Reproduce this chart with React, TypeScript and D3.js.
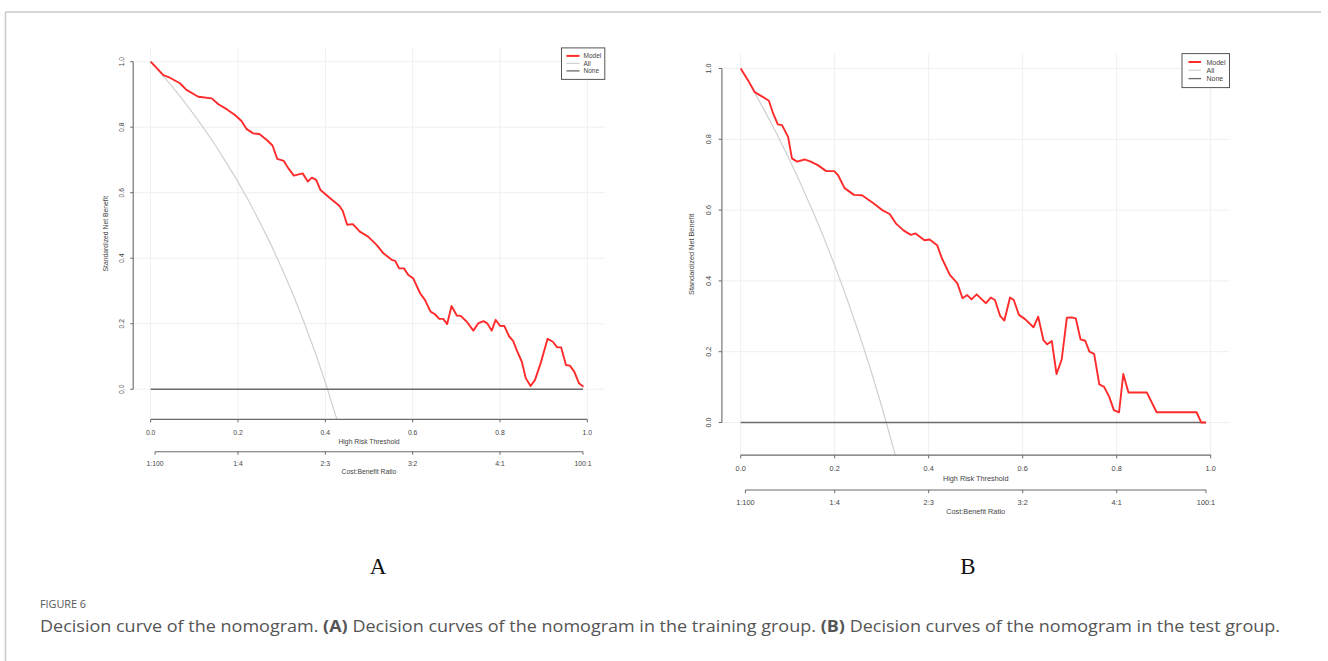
import React from 'react';
import * as d3 from 'd3';

// ---------- shared tick labels ----------
const xTicks = [0, 0.2, 0.4, 0.6, 0.8, 1.0];
const xTickLabels = ['0.0', '0.2', '0.4', '0.6', '0.8', '1.0'];
const yTicks = [0, 0.2, 0.4, 0.6, 0.8, 1.0];
const yTickLabels = ['0.0', '0.2', '0.4', '0.6', '0.8', '1.0'];
const costTicks = [0.01, 0.2, 0.4, 0.6, 0.8, 0.99];
const costLabels = ['1:100', '1:4', '2:3', '3:2', '4:1', '100:1'];
const legendLabels = ['Model', 'All', 'None'];

// ---------- Panel A (training group) ----------
const thresholdA = [0, 0.029, 0.044, 0.067, 0.082, 0.109, 0.14, 0.155, 0.174, 0.193, 0.208, 0.22, 0.235, 0.249, 0.266, 0.279, 0.29, 0.305, 0.315, 0.328, 0.348, 0.36, 0.369, 0.379, 0.389, 0.411, 0.432, 0.44, 0.45, 0.463, 0.479, 0.498, 0.518, 0.533, 0.552, 0.56, 0.569, 0.58, 0.59, 0.601, 0.617, 0.628, 0.641, 0.651, 0.661, 0.67, 0.679, 0.689, 0.701, 0.71, 0.724, 0.739, 0.75, 0.762, 0.771, 0.781, 0.79, 0.8, 0.81, 0.821, 0.83, 0.838, 0.85, 0.859, 0.87, 0.88, 0.893, 0.909, 0.921, 0.931, 0.94, 0.951, 0.96, 0.97, 0.981, 0.991];
const modelA = [1.0, 0.959, 0.951, 0.934, 0.914, 0.893, 0.888, 0.87, 0.855, 0.837, 0.819, 0.794, 0.781, 0.779, 0.761, 0.744, 0.703, 0.697, 0.675, 0.652, 0.659, 0.634, 0.646, 0.639, 0.608, 0.583, 0.56, 0.544, 0.502, 0.504, 0.481, 0.466, 0.44, 0.415, 0.395, 0.392, 0.369, 0.369, 0.349, 0.339, 0.293, 0.273, 0.237, 0.229, 0.215, 0.215, 0.199, 0.254, 0.225, 0.224, 0.206, 0.179, 0.201, 0.208, 0.201, 0.179, 0.212, 0.194, 0.193, 0.161, 0.148, 0.12, 0.084, 0.034, 0.01, 0.028, 0.079, 0.154, 0.145, 0.128, 0.128, 0.074, 0.072, 0.054, 0.018, 0.008];
const allThresholdA = [0, 0.025, 0.05, 0.075, 0.1, 0.125, 0.15, 0.175, 0.2, 0.225, 0.25, 0.275, 0.3, 0.325, 0.35, 0.375, 0.4, 0.4265];
const allA = [1.0, 0.962, 0.923, 0.881, 0.837, 0.79, 0.741, 0.688, 0.633, 0.574, 0.51, 0.443, 0.37, 0.293, 0.209, 0.119, 0.021, -0.092];

// ---------- Panel B (test group) ----------
const thresholdB = [0, 0.0155, 0.03, 0.044, 0.06, 0.069, 0.079, 0.088, 0.101, 0.109, 0.12, 0.136, 0.149, 0.164, 0.182, 0.199, 0.207, 0.221, 0.241, 0.258, 0.281, 0.301, 0.317, 0.331, 0.347, 0.362, 0.372, 0.391, 0.402, 0.418, 0.428, 0.445, 0.461, 0.472, 0.482, 0.491, 0.502, 0.513, 0.522, 0.532, 0.541, 0.552, 0.561, 0.573, 0.581, 0.592, 0.605, 0.623, 0.633, 0.644, 0.652, 0.662, 0.672, 0.683, 0.694, 0.704, 0.713, 0.723, 0.733, 0.742, 0.752, 0.763, 0.773, 0.784, 0.794, 0.805, 0.814, 0.825, 0.864, 0.885, 0.97, 0.98, 0.99];
const modelB = [1.0, 0.967, 0.933, 0.922, 0.909, 0.873, 0.842, 0.84, 0.806, 0.746, 0.737, 0.743, 0.737, 0.727, 0.71, 0.71, 0.699, 0.662, 0.643, 0.642, 0.621, 0.6, 0.589, 0.561, 0.542, 0.53, 0.534, 0.515, 0.517, 0.501, 0.464, 0.417, 0.393, 0.351, 0.36, 0.348, 0.362, 0.348, 0.337, 0.353, 0.346, 0.301, 0.288, 0.353, 0.346, 0.304, 0.292, 0.269, 0.299, 0.233, 0.221, 0.23, 0.137, 0.178, 0.296, 0.297, 0.294, 0.235, 0.231, 0.2, 0.194, 0.108, 0.101, 0.073, 0.035, 0.029, 0.137, 0.085, 0.085, 0.029, 0.029, 0.0, 0.0];
const allThresholdB = [0, 0.025, 0.05, 0.075, 0.1, 0.125, 0.15, 0.175, 0.2, 0.225, 0.25, 0.275, 0.3, 0.329];
const allB = [1.0, 0.943, 0.883, 0.82, 0.753, 0.682, 0.607, 0.528, 0.444, 0.354, 0.258, 0.156, 0.046, -0.092];

const noneThreshold = [0, 0.99];
const noneValue = [0, 0];

const MODEL_COLOR = '#ff2b2b';
const ALL_COLOR = '#d0d0d0';
const NONE_COLOR = '#6a6a6a';
const AXIS_COLOR = '#6a6a6a';
const GRID_COLOR = '#efefef';
const TEXT_COLOR = '#444';
const FONT = "'Liberation Sans', Arial, sans-serif";

type PanelProps = {
  id: string;
  xRange: [number, number];
  yRange: [number, number];
  k: number;
  font: number;
  yLabelOff: number;
  yTitleOff: number;
  legend: { x: number; w: number; h: number; rows: number[]; lineX: [number, number]; textX: number; font: number };
  thresholds: number[];
  model: number[];
  allT: number[];
  all: number[];
};

function Panel(p: PanelProps) {
  const x = d3.scaleLinear().domain([-0.04, 1.04]).range(p.xRange);
  const y = d3.scaleLinear().domain([-0.092, 1.042]).range(p.yRange);
  const line = d3
    .line<[number, number]>()
    .x((d) => x(d[0]))
    .y((d) => y(d[1]));
  const modelPts = p.thresholds.map((t, i) => [t, p.model[i]] as [number, number]);
  const allPts = p.allT.map((t, i) => [t, p.all[i]] as [number, number]);
  const nonePts = noneThreshold.map((t, i) => [t, noneValue[i]] as [number, number]);

  const left = p.xRange[0];
  const right = p.xRange[1];
  const bottom = p.yRange[0];
  const top = p.yRange[1];
  const k = p.k;
  const tick = 3 * k;
  const ax2 = bottom + 32.3 * k;
  const clipId = 'clip-' + p.id;
  const lg = p.legend;
  const legendColors = [MODEL_COLOR, ALL_COLOR, NONE_COLOR];
  const legendWidths = [2, 1.2, 1.3];

  return (
    <g fontFamily={FONT} fill={TEXT_COLOR}>
      <defs>
        <clipPath id={clipId}>
          <rect x={left} y={top} width={right - left} height={bottom - top} />
        </clipPath>
      </defs>
      {/* grid */}
      {xTicks.map((t) => (
        <line key={'gx' + t} x1={x(t)} x2={x(t)} y1={top} y2={bottom} stroke={GRID_COLOR} strokeWidth={1} />
      ))}
      {yTicks.map((t) => (
        <line key={'gy' + t} x1={left} x2={right} y1={y(t)} y2={y(t)} stroke={GRID_COLOR} strokeWidth={1} />
      ))}
      {/* curves */}
      <g clipPath={`url(#${clipId})`}>
        <path d={line(allPts) || ''} fill="none" stroke={ALL_COLOR} strokeWidth={1.2} />
        <path d={line(nonePts) || ''} fill="none" stroke={NONE_COLOR} strokeWidth={1.4} />
        <path d={line(modelPts) || ''} fill="none" stroke={MODEL_COLOR} strokeWidth={1.9} strokeLinejoin="round" />
      </g>
      {/* y axis */}
      <line x1={left} x2={left} y1={y(0)} y2={y(1)} stroke={AXIS_COLOR} strokeWidth={1.1} />
      {yTicks.map((t, i) => (
        <g key={'yt' + t}>
          <line x1={left - tick} x2={left} y1={y(t)} y2={y(t)} stroke={AXIS_COLOR} strokeWidth={1} />
          <text
            transform={`translate(${left - p.yLabelOff},${y(t)}) rotate(-90)`}
            textAnchor="middle"
            dominantBaseline="central"
            fontSize={p.font}
          >
            {yTickLabels[i]}
          </text>
        </g>
      ))}
      <text
        transform={`translate(${left - p.yTitleOff},${(top + bottom) / 2}) rotate(-90)`}
        textAnchor="middle"
        dominantBaseline="central"
        fontSize={p.font}
      >
        Standardized Net Benefit
      </text>
      {/* x axis */}
      <line x1={x(0)} x2={x(1)} y1={bottom} y2={bottom} stroke={AXIS_COLOR} strokeWidth={1.1} />
      {xTicks.map((t, i) => (
        <g key={'xt' + t}>
          <line x1={x(t)} x2={x(t)} y1={bottom} y2={bottom + tick} stroke={AXIS_COLOR} strokeWidth={1} />
          <text x={x(t)} y={bottom + 12.6 * k} textAnchor="middle" dominantBaseline="central" fontSize={p.font}>
            {xTickLabels[i]}
          </text>
        </g>
      ))}
      <text x={(x(0) + x(1)) / 2} y={bottom + 21.6 * k} textAnchor="middle" dominantBaseline="central" fontSize={p.font}>
        High Risk Threshold
      </text>
      {/* cost:benefit axis */}
      <line x1={x(costTicks[0])} x2={x(costTicks[costTicks.length - 1])} y1={ax2} y2={ax2} stroke={AXIS_COLOR} strokeWidth={1.1} />
      {costTicks.map((t, i) => (
        <g key={'ct' + t}>
          <line x1={x(t)} x2={x(t)} y1={ax2} y2={ax2 + tick} stroke={AXIS_COLOR} strokeWidth={1} />
          <text x={x(t)} y={bottom + 43.6 * k} textAnchor="middle" dominantBaseline="central" fontSize={p.font}>
            {costLabels[i]}
          </text>
        </g>
      ))}
      <text x={(x(0) + x(1)) / 2} y={bottom + 52.3 * k} textAnchor="middle" dominantBaseline="central" fontSize={p.font}>
        Cost:Benefit Ratio
      </text>
      {/* legend */}
      <rect x={lg.x} y={top} width={lg.w} height={lg.h} fill="#fff" stroke="#555" strokeWidth={1} />
      {legendLabels.map((lab, i) => (
        <g key={'lg' + lab}>
          <line
            x1={lg.x + lg.lineX[0]}
            x2={lg.x + lg.lineX[1]}
            y1={top + lg.rows[i]}
            y2={top + lg.rows[i]}
            stroke={legendColors[i]}
            strokeWidth={legendWidths[i]}
          />
          <text x={lg.x + lg.textX} y={top + lg.rows[i]} dominantBaseline="central" fontSize={lg.font}>
            {lab}
          </text>
        </g>
      ))}
    </g>
  );
}

export default function App() {
  return (
    <svg
      width={1328}
      height={661}
      style={{ position: 'absolute', left: 0, top: 0, background: '#fff' }}
    >
      <rect x={0} y={0} width={1328} height={661} fill="#fff" />
      {/* frame */}
      <line x1={5.5} x2={1321} y1={12} y2={12} stroke="#c8c8c8" strokeWidth={1.5} />
      <line x1={5.5} x2={5.5} y1={12} y2={661} stroke="#c8c8c8" strokeWidth={1.5} />

      <Panel
        id="A"
        xRange={[133.2, 604.8]}
        yRange={[419.4, 47.9]}
        k={1}
        font={6.8}
        yLabelOff={11.5}
        yTitleOff={28}
        legend={{ x: 561.5, w: 43.3, h: 31.5, rows: [8, 15.5, 23], lineX: [5, 18], textX: 22, font: 6.5 }}
        thresholds={thresholdA}
        model={modelA}
        allT={allThresholdA}
        all={allA}
      />
      <Panel
        id="B"
        xRange={[721.9, 1229.5]}
        yRange={[455.1, 53.6]}
        k={1.08}
        font={7.3}
        yLabelOff={13.5}
        yTitleOff={30.5}
        legend={{ x: 1182, w: 47.5, h: 34, rows: [8.4, 16.6, 25], lineX: [6.5, 19], textX: 24.5, font: 7 }}
        thresholds={thresholdB}
        model={modelB}
        allT={allThresholdB}
        all={allB}
      />

      <text x={378} y={574} textAnchor="middle" fontFamily="'Liberation Serif', 'Times New Roman', serif" fontSize={23} fill="#111">
        A
      </text>
      <text x={968} y={574} textAnchor="middle" fontFamily="'Liberation Serif', 'Times New Roman', serif" fontSize={23} fill="#111">
        B
      </text>

      <text x={40} y={608} fontFamily="'Open Sans', sans-serif" fontSize={11} fill="#555" textLength={46} lengthAdjust="spacingAndGlyphs">
        FIGURE 6
      </text>
      <text
        x={40}
        y={632}
        fontFamily="'Open Sans', sans-serif"
        fontSize={15.5}
        fill="#555"
        textLength={1240}
        lengthAdjust="spacingAndGlyphs"
      >
        Decision curve of the nomogram. <tspan fontWeight="bold">(A)</tspan> Decision curves of the nomogram in the training group.{' '}
        <tspan fontWeight="bold">(B)</tspan> Decision curves of the nomogram in the test group.
      </text>
    </svg>
  );
}
